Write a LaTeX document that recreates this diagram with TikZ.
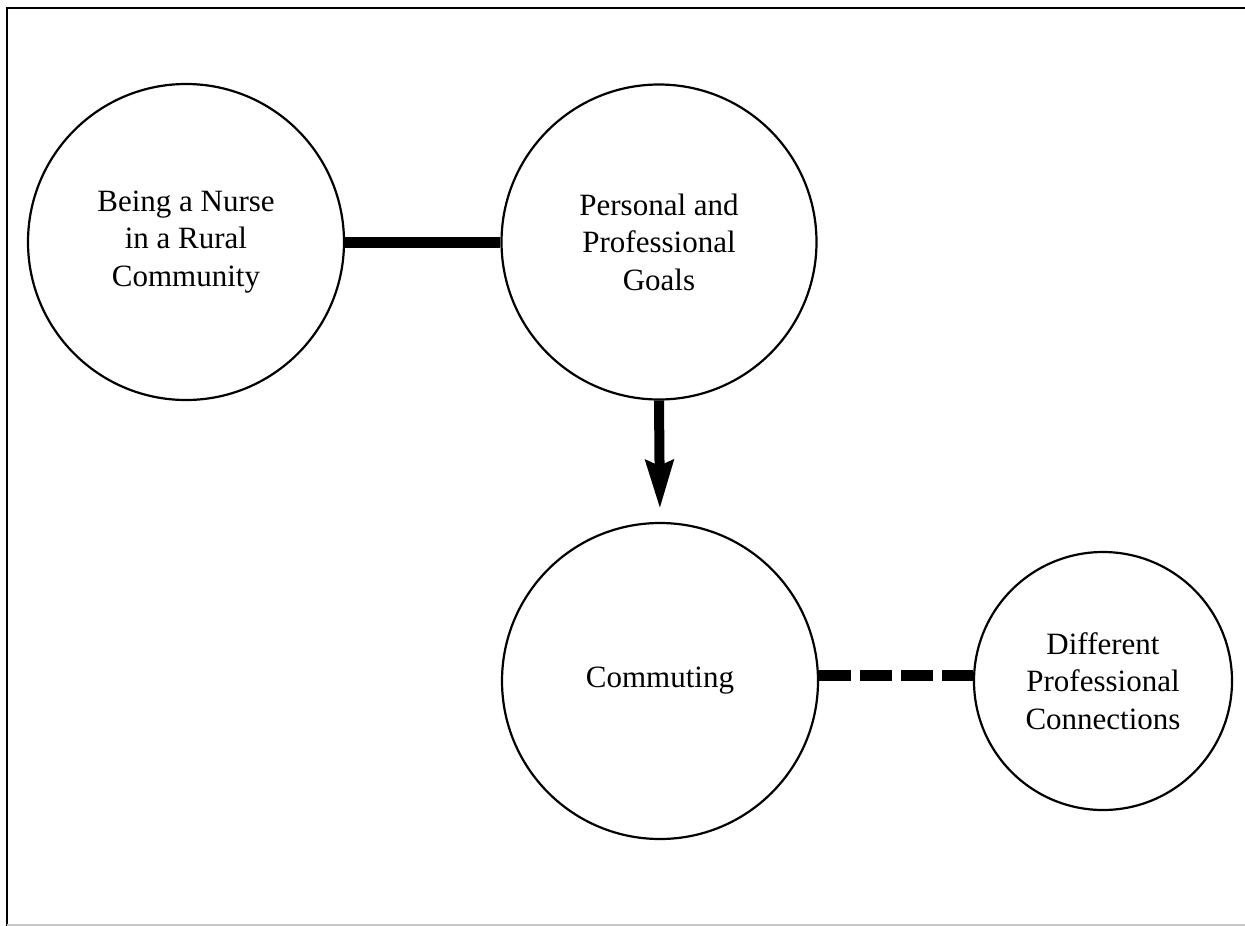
\documentclass[tikz,border=0pt]{standalone}
\usepackage{fontspec}
\setmainfont{Liberation Serif}
\usetikzlibrary{arrows.meta}
\begin{document}
\begin{tikzpicture}[x=1pt,y=-1pt,
  topic/.style={circle,draw=black,line width=2.2pt,inner sep=0pt,align=center,
    font=\fontsize{31}{37.5}\selectfont},
  solidlink/.style={line width=11pt},
  dashlink/.style={line width=11pt,dash pattern=on 32pt off 9pt},
  arrowlink/.style={line width=10pt,-{Stealth[length=48pt,width=27pt,inset=5pt]},shorten >=13pt}]
\useasboundingbox (0,0) rectangle (1245,926);
\fill[white] (0,0) rectangle (1245,926);
% frame
\coordinate (ftl) at (7,8);
\coordinate (ftr) at (1245,8);
\coordinate (fbl) at (7,926);
\coordinate (fbl2) at (7,925);
\coordinate (fbr) at (1245,925);
\draw[line width=2.8pt] (ftr) -- (ftl) -- (fbl);
\draw[gray!45,line width=1.2pt] (fbl2) -- (fbr);
% nodes
\node[topic,minimum size=316pt] (c1) at (186,242) {Being a Nurse\\in a Rural\\Community};
\node[topic,minimum size=315pt] (c2) at (659,242) {Personal and\\Professional\\Goals};
\node[topic,minimum size=316pt] (c3) at (660,681) {Commuting};
\node[topic,minimum size=258pt] (c4) at (1103,681) {Different\\Professional\\Connections};
% connectors
\draw[solidlink] (c1.east) -- (c2.west);
\draw[arrowlink] (c2.south) -- (c3.north);
\draw[dashlink] ([yshift=6pt]c3.east) -- ([yshift=6pt]c4.west);
\end{tikzpicture}
\end{document}
